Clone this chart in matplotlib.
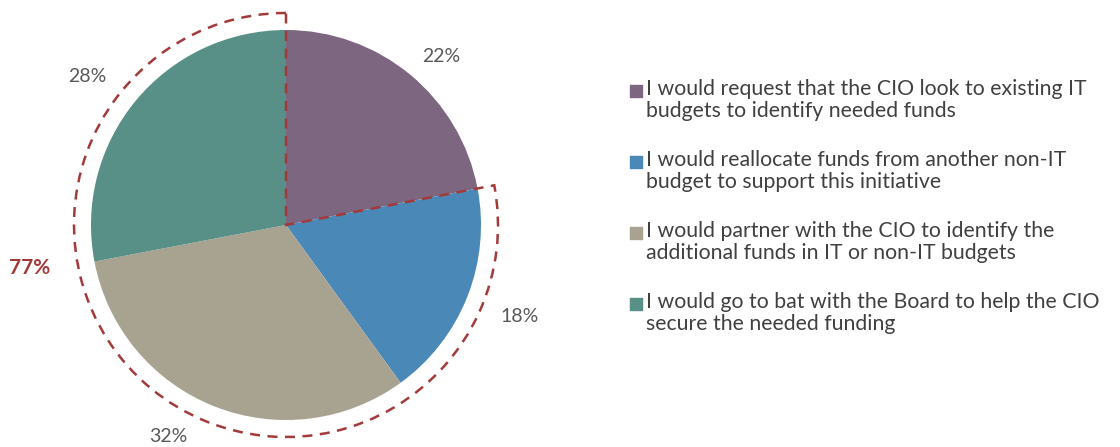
import matplotlib
matplotlib.use('Agg')
from matplotlib import pyplot as plt
from matplotlib.patches import Wedge
import numpy as np

plt.rcParams['font.family'] = ['Lato', 'DejaVu Sans']

shares = [22, 18, 32, 28]
colors = ['#7d6680', '#4a88b8', '#a8a290', '#588f87']
answers = ['I would request that the CIO look to existing IT\nbudgets to identify needed funds',
           'I would reallocate funds from another non-IT\nbudget to support this initiative',
           'I would partner with the CIO to identify the\nadditional funds in IT or non-IT budgets',
           'I would go to bat with the Board to help the CIO\nsecure the needed funding']
highlight_label = '77%'

W, H = 1120, 447
fig = plt.figure(figsize=(W / 100, H / 100), dpi=100)
ax = fig.add_axes([0, 0, 1, 1])

cx, cy, R = 286, H - 225, 195
wedges, texts, pcts = ax.pie(shares, colors=colors, startangle=90, counterclock=False,
                             center=(cx, cy), radius=R, autopct='%.0f%%', pctdistance=1.25,
                             textprops={'fontsize': 14, 'color': '#595959'})
# put the percentage labels where the original has them
pcts[0].set_position((cx + 155, H - 57))
pcts[1].set_position((cx + 234, H - 316))
pcts[2].set_position((cx - 118, H - 437))
pcts[3].set_position((cx - 199, H - 77))

# dashed outline around everything but the first slice
start = 90 - shares[0] / sum(shares) * 360
ax.add_patch(Wedge((cx, cy), 212, 90, start + 360, fill=False, edgecolor='#a33a3a',
                   linestyle=(0, (4, 3)), linewidth=1.8, zorder=5))
ax.text(30, H - 268, highlight_label, fontsize=15, fontweight='bold', color='#a33a3a',
        ha='center', va='center')

# legend drawn by hand so the square sits on the first line
for i, (txt, c) in enumerate(zip(answers, colors)):
    y = H - 91 - i * 71
    ax.scatter([636], [y], marker='s', s=75, color=c)
    ax.text(646, y + 12, txt, fontsize=15.3, color='#404040', va='top', linespacing=1.12)

ax.set_xlim(0, W)
ax.set_ylim(0, H)
ax.set_aspect('equal')
ax.axis('off')
fig.savefig('out.png', dpi=100)
